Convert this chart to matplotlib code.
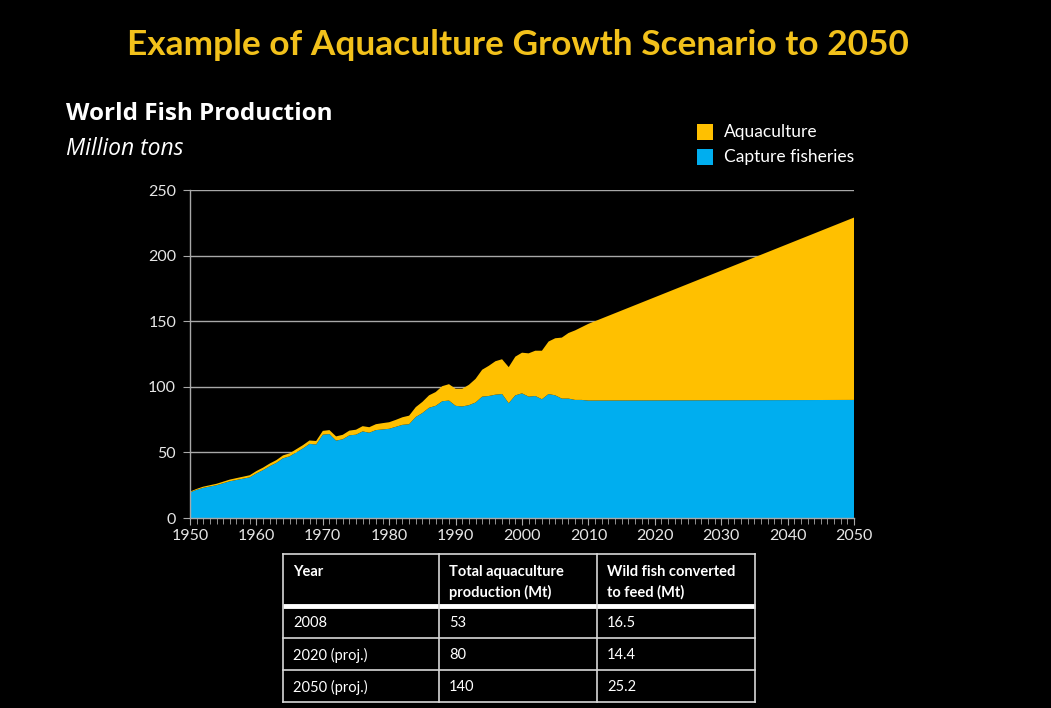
import matplotlib
matplotlib.use("Agg")
import matplotlib.pyplot as plt
from matplotlib.ticker import MultipleLocator
from matplotlib.patches import Rectangle

# ---------------- data ----------------
years = [1950, 1951, 1952, 1953, 1954, 1955, 1956, 1957, 1958, 1959,
         1960, 1961, 1962, 1963, 1964, 1965, 1966, 1967, 1968, 1969,
         1970, 1971, 1972, 1973, 1974, 1975, 1976, 1977, 1978, 1979,
         1980, 1981, 1982, 1983, 1984, 1985, 1986, 1987, 1988, 1989,
         1990, 1991, 1992, 1993, 1994, 1995, 1996, 1997, 1998, 1999,
         2000, 2001, 2002, 2003, 2004, 2005, 2006, 2007, 2008, 2009,
         2010, 2050]

capture = [19.5, 21.5, 23.0, 24.0, 25.0, 26.5, 28.0, 29.0, 30.0, 31.0,
           34.0, 36.5, 39.5, 42.0, 45.5, 47.0, 50.0, 53.0, 56.5, 56.0,
           63.5, 64.0, 59.0, 60.0, 63.0, 63.5, 66.0, 65.0, 67.0, 67.5,
           68.0, 69.5, 71.0, 71.5, 77.0, 80.0, 84.0, 85.5, 89.0, 89.5,
           85.5, 85.0, 86.0, 88.0, 92.5, 93.0, 94.0, 94.5, 87.5, 93.5,
           95.0, 92.5, 93.0, 90.5, 94.5, 93.5, 91.0, 91.0, 90.0, 90.0,
           89.5, 90.0]

aquaculture = [0.6, 0.7, 0.9, 1.0, 1.1, 1.2, 1.3, 1.4, 1.5, 1.6,
               1.8, 1.9, 2.0, 2.1, 2.2, 2.3, 2.4, 2.5, 2.6, 2.7,
               2.9, 3.0, 3.2, 3.4, 3.6, 3.8, 4.0, 4.2, 4.5, 4.8,
               5.0, 5.3, 5.8, 6.5, 7.5, 8.5, 9.5, 10.5, 11.5, 12.5,
               13.0, 13.5, 15.5, 18.0, 20.5, 23.0, 25.5, 26.5, 27.5, 29.5,
               31.0, 33.0, 34.5, 37.0, 40.0, 43.5, 46.5, 50.0, 53.0, 55.5,
               58.5, 139.0]

series_labels = ["Aquaculture", "Capture fisheries"]
x_ticks = [1950, 1960, 1970, 1980, 1990, 2000, 2010, 2020, 2030, 2040, 2050]
y_ticks = [0, 50, 100, 150, 200, 250]

table_header = ["Year", "Total aquaculture\nproduction (Mt)", "Wild fish converted\nto feed (Mt)"]
table_years = ["2008", "2020 (proj.)", "2050 (proj.)"]
table_aqua = ["53", "80", "140"]
table_feed = ["16.5", "14.4", "25.2"]

# ---------------- style ----------------
BLUE = "#00AEEF"
GOLD = "#FFC000"
TITLE_GOLD = "#F2C11B"
NARROW = ["Lato", "DejaVu Sans"]
SANS = ["Open Sans", "DejaVu Sans"]

W, H = 1051, 708
fig = plt.figure(figsize=(W / 100, H / 100), dpi=100, facecolor="black")

def fx(px):
    return px / W

def fy(py):
    return 1 - py / H

left, right, top, bottom = 190, 854, 190, 518
ax = fig.add_axes([fx(left), fy(bottom), fx(right) - fx(left), fy(top) - fy(bottom)])
ax.set_facecolor("black")

ax.stackplot(years, capture, aquaculture, colors=[BLUE, GOLD], linewidth=0)
ax.set_xlim(1950, 2050)
ax.set_ylim(0, 250)
ax.set_xticks(x_ticks)
ax.set_yticks(y_ticks)
ax.xaxis.set_minor_locator(MultipleLocator(1))
ax.grid(axis="y", color="#a8a8a8", linewidth=1)
ax.set_axisbelow(True)
for s in ["top", "right"]:
    ax.spines[s].set_visible(False)
for s in ["left", "bottom"]:
    ax.spines[s].set_color("#a8a8a8")
    ax.spines[s].set_linewidth(1)
    ax.spines[s].set_zorder(3)
ax.tick_params(axis="both", which="both", colors="#a8a8a8", direction="out")
ax.tick_params(axis="x", which="major", length=5, pad=3)
ax.tick_params(axis="x", which="minor", length=4)
ax.tick_params(axis="y", which="major", length=5, pad=5)
for lab in ax.get_xticklabels() + ax.get_yticklabels():
    lab.set_family(NARROW)
    lab.set_fontsize(11.5)
    lab.set_color("#e6e6e6")

# ---------------- titles ----------------
title = fig.text(fx(518), fy(45), "Example of Aquaculture Growth Scenario to 2050",
                 ha="center", va="center", color=TITLE_GOLD, fontsize=26,
                 fontweight="bold", family=NARROW)
fig.canvas.draw()
tw = title.get_window_extent(fig.canvas.get_renderer()).width
title.set_fontsize(26 * 783.0 / tw)

fig.text(fx(66), fy(114), "World Fish Production", ha="left", va="center",
         color="white", fontsize=17.5, fontweight="bold", family=SANS)
fig.text(fx(66), fy(149), "Million tons", ha="left", va="center",
         color="white", fontsize=16.5, fontstyle="italic", family=SANS)

# ---------------- legend ----------------
ov = fig.add_axes([0, 0, 1, 1], facecolor="none")
ov.set_xlim(0, W)
ov.set_ylim(H, 0)
ov.axis("off")
for i, (lab, col) in enumerate(zip(series_labels, [GOLD, BLUE])):
    yc = 132 + i * 25
    ov.add_patch(Rectangle((697, yc - 8), 16, 16, facecolor=col, edgecolor="none"))
    ov.text(724, yc, lab, ha="left", va="center", color="white",
            fontsize=12.5, family=NARROW)

# ---------------- table ----------------
tl, tr = 283, 755
col_x = [283, 439, 597, 755]
row_y = [554, 606, 638, 670, 702]
lc = "#d8d8d8"
ov.plot([tl, tr], [row_y[0], row_y[0]], color=lc, lw=1.2)
ov.plot([tl, tr], [row_y[1], row_y[1]], color="white", lw=3.5, solid_capstyle="butt")
for yy in row_y[2:]:
    ov.plot([tl, tr], [yy, yy], color=lc, lw=1.2)
for xx in col_x:
    ov.plot([xx, xx], [row_y[0], row_y[-1]], color=lc, lw=1.2)

for j, txt in enumerate(table_header):
    ov.text(col_x[j] + 10, 565, txt, ha="left", va="top", color="white",
            fontsize=10.5, fontweight="bold", family=NARROW, linespacing=1.5)

rows = list(zip(table_years, table_aqua, table_feed))
for i, row in enumerate(rows):
    yc = (row_y[i + 1] + row_y[i + 2]) / 2 + 1
    for j, txt in enumerate(row):
        ov.text(col_x[j] + 10, yc, txt, ha="left", va="center", color="white",
                fontsize=10.5, family=NARROW)

fig.savefig("out.png", dpi=100, facecolor="black")
